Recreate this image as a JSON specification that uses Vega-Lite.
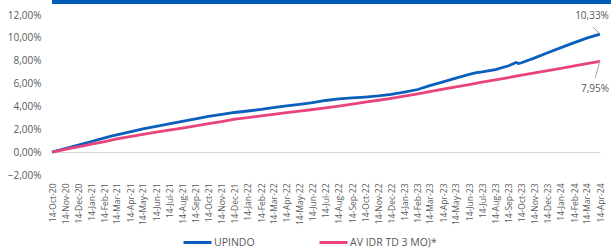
{
  "$schema": "https://vega.github.io/schema/vega-lite/v6.json",
  "padding": 0,
  "spacing": 6,
  "background": "white",
  "config": {
    "view": {"stroke": null},
    "font": "Open Sans",
    "locale": {"number": {"decimal": ",", "thousands": ".", "grouping": [3], "currency": ["", ""]}}
  },
  "datasets": {
    "series": [
      {"date": "2020-10-14", "series": "UPINDO", "value": 0.0},
      {"date": "2020-11-14", "series": "UPINDO", "value": 0.0031},
      {"date": "2020-12-14", "series": "UPINDO", "value": 0.0062},
      {"date": "2021-01-14", "series": "UPINDO", "value": 0.0093},
      {"date": "2021-02-14", "series": "UPINDO", "value": 0.0124},
      {"date": "2021-03-01", "series": "UPINDO", "value": 0.0140},
      {"date": "2021-03-14", "series": "UPINDO", "value": 0.0152},
      {"date": "2021-04-14", "series": "UPINDO", "value": 0.0178},
      {"date": "2021-05-14", "series": "UPINDO", "value": 0.0203},
      {"date": "2021-06-14", "series": "UPINDO", "value": 0.0226},
      {"date": "2021-07-14", "series": "UPINDO", "value": 0.0248},
      {"date": "2021-08-14", "series": "UPINDO", "value": 0.0270},
      {"date": "2021-09-14", "series": "UPINDO", "value": 0.0292},
      {"date": "2021-10-14", "series": "UPINDO", "value": 0.0312},
      {"date": "2021-11-14", "series": "UPINDO", "value": 0.0330},
      {"date": "2021-12-14", "series": "UPINDO", "value": 0.0347},
      {"date": "2022-01-14", "series": "UPINDO", "value": 0.0360},
      {"date": "2022-02-14", "series": "UPINDO", "value": 0.0374},
      {"date": "2022-03-14", "series": "UPINDO", "value": 0.0389},
      {"date": "2022-04-14", "series": "UPINDO", "value": 0.0404},
      {"date": "2022-05-14", "series": "UPINDO", "value": 0.0418},
      {"date": "2022-06-14", "series": "UPINDO", "value": 0.0434},
      {"date": "2022-07-14", "series": "UPINDO", "value": 0.0452},
      {"date": "2022-08-14", "series": "UPINDO", "value": 0.0466},
      {"date": "2022-09-14", "series": "UPINDO", "value": 0.0474},
      {"date": "2022-10-14", "series": "UPINDO", "value": 0.0482},
      {"date": "2022-11-14", "series": "UPINDO", "value": 0.0492},
      {"date": "2022-12-14", "series": "UPINDO", "value": 0.0506},
      {"date": "2023-01-14", "series": "UPINDO", "value": 0.0526},
      {"date": "2023-02-14", "series": "UPINDO", "value": 0.0548},
      {"date": "2023-03-14", "series": "UPINDO", "value": 0.0582},
      {"date": "2023-04-14", "series": "UPINDO", "value": 0.0615},
      {"date": "2023-05-14", "series": "UPINDO", "value": 0.0648},
      {"date": "2023-06-14", "series": "UPINDO", "value": 0.0680},
      {"date": "2023-07-01", "series": "UPINDO", "value": 0.0695},
      {"date": "2023-07-14", "series": "UPINDO", "value": 0.0702},
      {"date": "2023-08-14", "series": "UPINDO", "value": 0.0722},
      {"date": "2023-09-14", "series": "UPINDO", "value": 0.0756},
      {"date": "2023-10-01", "series": "UPINDO", "value": 0.0784},
      {"date": "2023-10-07", "series": "UPINDO", "value": 0.0776},
      {"date": "2023-10-14", "series": "UPINDO", "value": 0.0782},
      {"date": "2023-11-14", "series": "UPINDO", "value": 0.0825},
      {"date": "2023-12-14", "series": "UPINDO", "value": 0.0870},
      {"date": "2024-01-14", "series": "UPINDO", "value": 0.0915},
      {"date": "2024-02-14", "series": "UPINDO", "value": 0.0958},
      {"date": "2024-03-14", "series": "UPINDO", "value": 0.0998},
      {"date": "2024-04-14", "series": "UPINDO", "value": 0.1033},
      {"date": "2020-10-14", "series": "AV IDR TD 3 MO)*", "value": 0.0},
      {"date": "2020-11-14", "series": "AV IDR TD 3 MO)*", "value": 0.0024},
      {"date": "2020-12-14", "series": "AV IDR TD 3 MO)*", "value": 0.0047},
      {"date": "2021-01-14", "series": "AV IDR TD 3 MO)*", "value": 0.0070},
      {"date": "2021-02-14", "series": "AV IDR TD 3 MO)*", "value": 0.0093},
      {"date": "2021-03-14", "series": "AV IDR TD 3 MO)*", "value": 0.0116},
      {"date": "2021-04-14", "series": "AV IDR TD 3 MO)*", "value": 0.0136},
      {"date": "2021-05-14", "series": "AV IDR TD 3 MO)*", "value": 0.0156},
      {"date": "2021-06-14", "series": "AV IDR TD 3 MO)*", "value": 0.0175},
      {"date": "2021-07-14", "series": "AV IDR TD 3 MO)*", "value": 0.0193},
      {"date": "2021-08-14", "series": "AV IDR TD 3 MO)*", "value": 0.0211},
      {"date": "2021-09-14", "series": "AV IDR TD 3 MO)*", "value": 0.0230},
      {"date": "2021-10-14", "series": "AV IDR TD 3 MO)*", "value": 0.0249},
      {"date": "2021-11-14", "series": "AV IDR TD 3 MO)*", "value": 0.0268},
      {"date": "2021-12-14", "series": "AV IDR TD 3 MO)*", "value": 0.0288},
      {"date": "2022-01-14", "series": "AV IDR TD 3 MO)*", "value": 0.0303},
      {"date": "2022-02-14", "series": "AV IDR TD 3 MO)*", "value": 0.0317},
      {"date": "2022-03-14", "series": "AV IDR TD 3 MO)*", "value": 0.0331},
      {"date": "2022-04-14", "series": "AV IDR TD 3 MO)*", "value": 0.0345},
      {"date": "2022-05-14", "series": "AV IDR TD 3 MO)*", "value": 0.0359},
      {"date": "2022-06-14", "series": "AV IDR TD 3 MO)*", "value": 0.0373},
      {"date": "2022-07-14", "series": "AV IDR TD 3 MO)*", "value": 0.0388},
      {"date": "2022-08-14", "series": "AV IDR TD 3 MO)*", "value": 0.0403},
      {"date": "2022-09-14", "series": "AV IDR TD 3 MO)*", "value": 0.0420},
      {"date": "2022-10-14", "series": "AV IDR TD 3 MO)*", "value": 0.0437},
      {"date": "2022-11-14", "series": "AV IDR TD 3 MO)*", "value": 0.0454},
      {"date": "2022-12-14", "series": "AV IDR TD 3 MO)*", "value": 0.0471},
      {"date": "2023-01-14", "series": "AV IDR TD 3 MO)*", "value": 0.0490},
      {"date": "2023-02-14", "series": "AV IDR TD 3 MO)*", "value": 0.0510},
      {"date": "2023-03-14", "series": "AV IDR TD 3 MO)*", "value": 0.0530},
      {"date": "2023-04-14", "series": "AV IDR TD 3 MO)*", "value": 0.0551},
      {"date": "2023-05-14", "series": "AV IDR TD 3 MO)*", "value": 0.0571},
      {"date": "2023-06-14", "series": "AV IDR TD 3 MO)*", "value": 0.0591},
      {"date": "2023-07-14", "series": "AV IDR TD 3 MO)*", "value": 0.0612},
      {"date": "2023-08-14", "series": "AV IDR TD 3 MO)*", "value": 0.0632},
      {"date": "2023-09-14", "series": "AV IDR TD 3 MO)*", "value": 0.0653},
      {"date": "2023-10-14", "series": "AV IDR TD 3 MO)*", "value": 0.0673},
      {"date": "2023-11-14", "series": "AV IDR TD 3 MO)*", "value": 0.0693},
      {"date": "2023-12-14", "series": "AV IDR TD 3 MO)*", "value": 0.0713},
      {"date": "2024-01-14", "series": "AV IDR TD 3 MO)*", "value": 0.0734},
      {"date": "2024-02-14", "series": "AV IDR TD 3 MO)*", "value": 0.0754},
      {"date": "2024-03-14", "series": "AV IDR TD 3 MO)*", "value": 0.0775},
      {"date": "2024-04-14", "series": "AV IDR TD 3 MO)*", "value": 0.0795}
    ]
  },
  "vconcat": [
    {
      "width": 605,
      "height": 4,
      "data": {"values": [{}]},
      "mark": {"type": "rect", "color": "#005cb9"}
    },
    {
      "width": 548,
      "height": 160,
      "data": {"name": "series"},
      "encoding": {
        "x": {
          "field": "date",
          "type": "temporal",
          "scale": {"domain": [{"year": 2020, "month": 10, "date": 14}, {"year": 2024, "month": 4, "date": 14}], "nice": false},
          "axis": {
            "title": null,
            "values": [
              {"year": 2020, "month": 10, "date": 14}, {"year": 2020, "month": 11, "date": 14}, {"year": 2020, "month": 12, "date": 14},
              {"year": 2021, "month": 1, "date": 14}, {"year": 2021, "month": 2, "date": 14}, {"year": 2021, "month": 3, "date": 14},
              {"year": 2021, "month": 4, "date": 14}, {"year": 2021, "month": 5, "date": 14}, {"year": 2021, "month": 6, "date": 14},
              {"year": 2021, "month": 7, "date": 14}, {"year": 2021, "month": 8, "date": 14}, {"year": 2021, "month": 9, "date": 14},
              {"year": 2021, "month": 10, "date": 14}, {"year": 2021, "month": 11, "date": 14}, {"year": 2021, "month": 12, "date": 14},
              {"year": 2022, "month": 1, "date": 14}, {"year": 2022, "month": 2, "date": 14}, {"year": 2022, "month": 3, "date": 14},
              {"year": 2022, "month": 4, "date": 14}, {"year": 2022, "month": 5, "date": 14}, {"year": 2022, "month": 6, "date": 14},
              {"year": 2022, "month": 7, "date": 14}, {"year": 2022, "month": 8, "date": 14}, {"year": 2022, "month": 9, "date": 14},
              {"year": 2022, "month": 10, "date": 14}, {"year": 2022, "month": 11, "date": 14}, {"year": 2022, "month": 12, "date": 14},
              {"year": 2023, "month": 1, "date": 14}, {"year": 2023, "month": 2, "date": 14}, {"year": 2023, "month": 3, "date": 14},
              {"year": 2023, "month": 4, "date": 14}, {"year": 2023, "month": 5, "date": 14}, {"year": 2023, "month": 6, "date": 14},
              {"year": 2023, "month": 7, "date": 14}, {"year": 2023, "month": 8, "date": 14}, {"year": 2023, "month": 9, "date": 14},
              {"year": 2023, "month": 10, "date": 14}, {"year": 2023, "month": 11, "date": 14}, {"year": 2023, "month": 12, "date": 14},
              {"year": 2024, "month": 1, "date": 14}, {"year": 2024, "month": 2, "date": 14}, {"year": 2024, "month": 3, "date": 14},
              {"year": 2024, "month": 4, "date": 14}
            ],
            "format": "%d-%b-%y",
            "labelAngle": -90,
            "labelFontSize": 8.5,
            "labelColor": "#595959",
            "labelPadding": 8,
            "labelOverlap": false,
            "labelFlush": false,
            "domain": false,
            "ticks": false,
            "grid": false
          }
        },
        "y": {
          "field": "value",
          "type": "quantitative",
          "scale": {"domain": [-0.02, 0.12], "nice": false},
          "axis": {
            "title": null,
            "values": [-0.02, 0, 0.02, 0.04, 0.06, 0.08, 0.1, 0.12],
            "format": ".2%",
            "labelFontSize": 10,
            "labelColor": "#595959",
            "labelPadding": 11,
            "minExtent": 52,
            "domain": false,
            "ticks": false,
            "grid": true,
            "gridColor": "#d9d9d9",
            "gridOpacity": {"condition": {"test": "datum.value === 0", "value": 1}, "value": 0}
          }
        }
      },
      "layer": [
        {
          "mark": {"type": "line", "strokeWidth": 2.8},
          "encoding": {
            "color": {
              "field": "series",
              "type": "nominal",
              "sort": null,
              "scale": {"domain": ["UPINDO", "AV IDR TD 3 MO)*"], "range": ["#0a5fbd", "#e8437b"]},
              "legend": {
                "title": null,
                "orient": "none",
                "legendX": 130,
                "legendY": 227,
                "direction": "horizontal",
                "columns": 2,
                "gridAlign": "none",
                "symbolType": "stroke",
                "symbolSize": 784,
                "symbolStrokeWidth": 3,
                "labelFontSize": 10.5,
                "labelColor": "#595959",
                "labelOffset": 1,
                "columnPadding": 58
              }
            }
          }
        },
        {
          "transform": [{"filter": "datum.value === 0.1033"}],
          "mark": {"type": "rule", "color": "#a6a6a6", "strokeWidth": 1, "x2Offset": -7, "y2Offset": -7},
          "encoding": {
            "x2": {"field": "date"},
            "y2": {"field": "value"}
          }
        },
        {
          "transform": [{"filter": "datum.value === 0.0795"}],
          "mark": {"type": "rule", "color": "#a6a6a6", "strokeWidth": 1, "x2Offset": -5, "y2Offset": 17},
          "encoding": {
            "x2": {"field": "date"},
            "y2": {"field": "value"}
          }
        },
        {
          "transform": [{"filter": "datum.value === 0.1033"}],
          "mark": {"type": "text", "color": "#595959", "fontSize": 10, "dx": -8, "dy": -18},
          "encoding": {
            "text": {"field": "value", "type": "quantitative", "format": ".2%"}
          }
        },
        {
          "transform": [{"filter": "datum.value === 0.0795"}],
          "mark": {"type": "text", "color": "#595959", "fontSize": 10, "dx": -5, "dy": 28},
          "encoding": {
            "text": {"field": "value", "type": "quantitative", "format": ".2%"}
          }
        }
      ]
    }
  ]
}
